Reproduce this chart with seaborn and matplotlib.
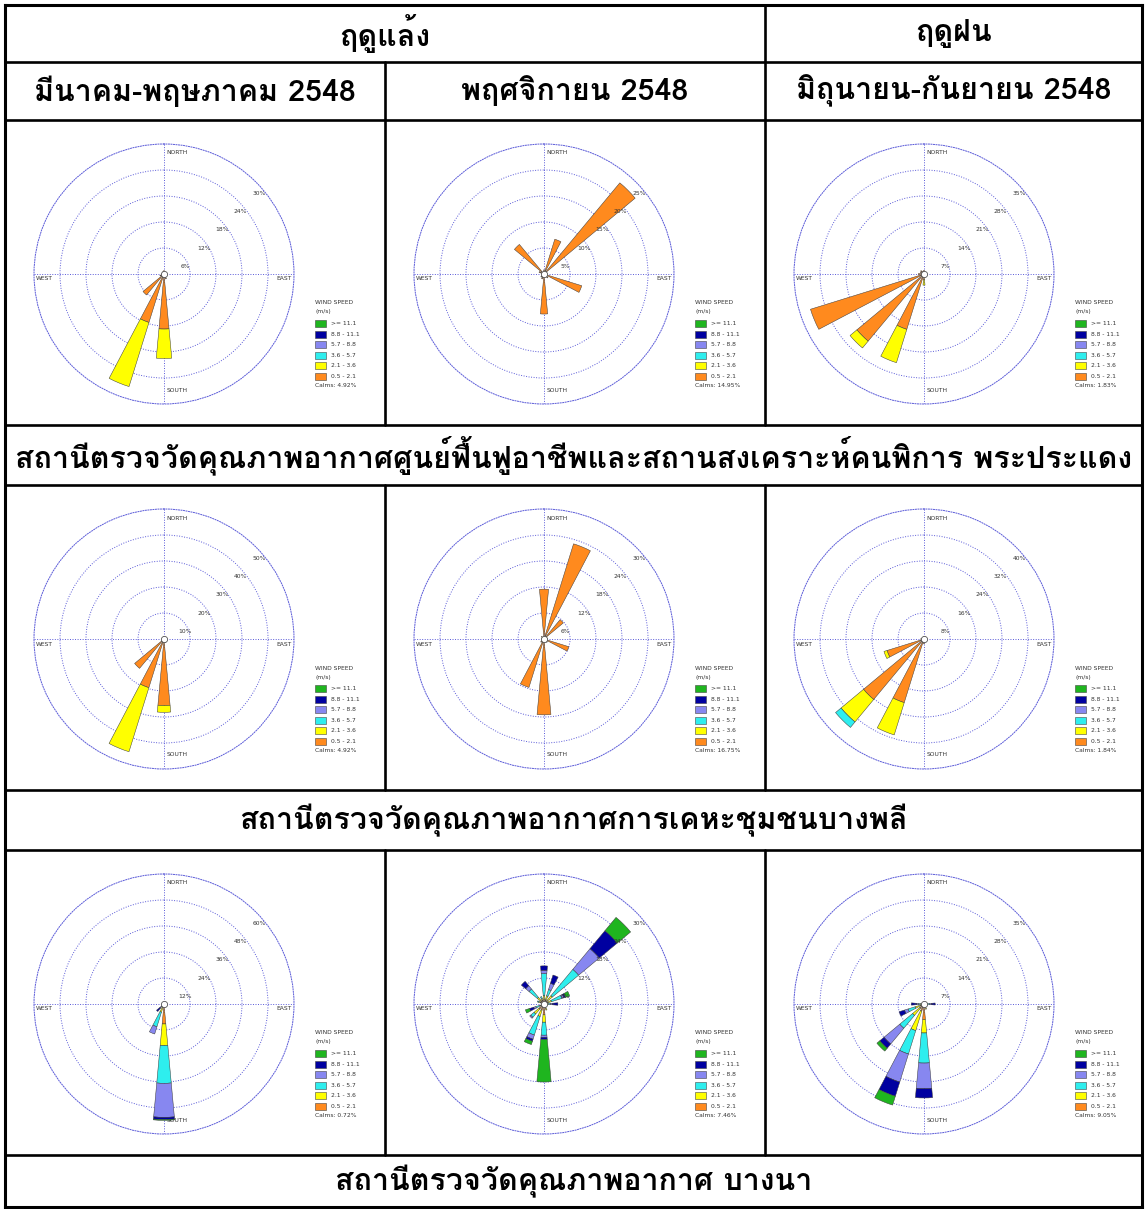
import numpy as np
import pandas as pd
import matplotlib
matplotlib.use("Agg")
import matplotlib.pyplot as plt
import seaborn as sns
from matplotlib import font_manager
from matplotlib.font_manager import FontProperties
from matplotlib.ft2font import FT2Font
from matplotlib.patches import Rectangle
from matplotlib.transforms import offset_copy

# ---------------------------------------------------------------- text
SEASON_DRY = "ฤดูแล้ง"
SEASON_WET = "ฤดูฝน"
PERIODS = ["มีนาคม-พฤษภาคม 2548", "พฤศจิกายน 2548", "มิถุนายน-กันยายน 2548"]
STATIONS = [
    "สถานีตรวจวัดคุณภาพอากาศศูนย์ฟื้นฟูอาชีพและสถานสงเคราะห์คนพิการ พระประแดง",
    "สถานีตรวจวัดคุณภาพอากาศการเคหะชุมชนบางพลี",
    "สถานีตรวจวัดคุณภาพอากาศ บางนา",
]

# ---------------------------------------------------------------- wind data
DIRECTIONS = ["N", "NNE", "NE", "ENE", "E", "ESE", "SE", "SSE",
              "S", "SSW", "SW", "WSW", "W", "WNW", "NW", "NNW"]
# speed classes, from the calm circle outward (m/s)
SPEED_CLASSES = ["0.5 - 2.1", "2.1 - 3.6", "3.6 - 5.7", "5.7 - 8.8", "8.8 - 11.1", ">= 11.1"]
SPEED_COLORS = ["#FF8A1E", "#FFFF00", "#2EEEEE", "#8787F0", "#0000A0", "#1FB51F"]

# percent frequency per direction, split by speed class (same order as SPEED_CLASSES)
PPD_MAR_MAY = {"N": [0.8], "NNE": [0.5], "NE": [0.4], "E": [0.3], "SE": [0.6], "SSE": [1.2],
               "S": [12.7, 6.8], "SSW": [11.7, 15.5], "SW": [6.3], "WSW": [1.0],
               "W": [0.5], "NW": [0.4], "NNW": [0.6]}
PPD_NOV = {"N": [0.8], "NNE": [7.0], "NE": [22.8], "E": [0.6], "ESE": [7.6], "SE": [1.0],
           "S": [7.7], "SSW": [1.0], "SW": [0.8], "W": [0.5], "WNW": [1.0], "NW": [7.4]}
PPD_JUN_SEP = {"N": [1.0], "E": [0.5], "SE": [0.6], "SSE": [0.8], "S": [1.5, 1.5],
               "SSW": [15.6, 9.4], "SW": [23.5, 2.4], "WSW": [32.0], "W": [1.5],
               "WNW": [1.0], "NW": [1.2], "NNW": [0.8]}

BPL_MAR_MAY = {"N": [1.0], "NNE": [0.5], "SSE": [1.5], "S": [25.6, 2.6],
               "SSW": [19.6, 25.8], "SW": [14.7], "WSW": [1.0]}
BPL_NOV = {"N": [11.5], "NNE": [23.0], "NE": [5.8], "E": [0.8], "ESE": [6.0], "SE": [1.0],
           "S": [17.5], "SSW": [11.7], "SW": [1.0], "W": [0.6], "NW": [0.8]}
BPL_JUN_SEP = {"N": [0.8], "NNE": [0.8], "NE": [0.5], "E": [0.6], "ESE": [0.5], "SE": [0.7],
               "S": [1.5], "SSW": [20.5, 10.4], "SW": [24.2, 9.0, 2.2], "WSW": [11.9, 1.0],
               "W": [1.0], "WNW": [0.6]}

BNA_MAR_MAY = {"N": [0.3], "NNE": [0.5], "SSE": [0.5],
               "S": [9.2, 10.0, 17.4, 15.7, 1.0, 0.4],
               "SSW": [1.0, 3.0, 7.0, 3.5],
               "SW": [0.5, 0.5, 0.5, 1.0, 2.0]}
BNA_NOV = {"N": [1.0, 1.0, 5.0, 0.8, 1.0], "NNE": [1.0, 1.0, 1.5, 1.5, 2.0],
           "NE": [1.0, 1.5, 7.9, 6.2, 5.4, 4.0], "ENE": [1.0, 0.8, 2.5, 0.5, 0.4, 1.0],
           "E": [0.5, 0.5, 0.5, 0.5, 1.2], "ESE": [0.5], "SE": [0.5], "SSE": [1.0, 0.5],
           "S": [2.5, 1.7, 3.0, 0.5, 0.5, 9.8], "SSW": [1.5, 1.5, 4.5, 1.0, 0.5, 0.8],
           "SW": [1.5, 1.5, 1.0, 0.3], "WSW": [0.5, 0.5, 1.0, 0.5, 1.0, 1.0],
           "WNW": [0.8, 0.5, 0.3], "NW": [1.0, 1.0, 2.5, 1.0, 1.3], "NNW": [0.8, 0.5, 0.5]}
BNA_JUN_SEP = {"N": [0.5], "NNE": [0.5], "E": [0.5, 0.5, 0.5, 0.5, 1.0], "SSE": [1.0, 0.5],
               "S": [4.2, 3.6, 8.1, 6.9, 2.5], "SSW": [2.0, 5.5, 6.6, 7.9, 4.0, 2.5],
               "SW": [1.5, 2.5, 4.5, 5.5, 1.5, 1.0], "WSW": [1.0, 1.5, 2.0, 1.0, 1.5],
               "W": [0.5, 0.5, 0.5, 0.5, 1.4]}

ROSES = [[PPD_MAR_MAY, PPD_NOV, PPD_JUN_SEP],
         [BPL_MAR_MAY, BPL_NOV, BPL_JUN_SEP],
         [BNA_MAR_MAY, BNA_NOV, BNA_JUN_SEP]]
RING_STEPS = [[6, 5, 7], [10, 6, 8], [12, 6, 7]]
CALMS = [["4.92%", "14.95%", "1.83%"],
         ["4.92%", "16.75%", "1.84%"],
         ["0.72%", "7.46%", "9.05%"]]

# long-form table built from the dictionaries above
records = []
for r, row in enumerate(ROSES):
    for c, rose in enumerate(row):
        for d, vals in rose.items():
            for k, v in enumerate(vals):
                records.append(dict(row=r, col=c, direction=d,
                                    speed=SPEED_CLASSES[k], percent=v))
wind = pd.DataFrame(records)


# ---------------------------------------------------------------- fonts
def find_thai_font():
    paths = [f.fname for f in font_manager.fontManager.ttflist]
    paths += [p for p in font_manager.findSystemFonts() if p not in paths]
    found = []
    for path in paths:
        try:
            cmap = FT2Font(path).get_charmap()
        except Exception:
            continue
        if all(ord(ch) in cmap for ch in "กฤดูแล้งสถานี"):
            low = path.lower()
            found.append(("bold" not in low, "italic" in low or "oblique" in low, len(low), path))
    if not found:
        return None
    found.sort()
    return found[0][3]


sns.set_style("white")
plt.rcParams["font.family"] = ["DejaVu Sans"]
thai_path = find_thai_font()
if thai_path:
    THAI = FontProperties(fname=thai_path)
else:
    THAI = FontProperties(family="DejaVu Sans", weight="bold")

palette = sns.color_palette(SPEED_COLORS)

# ---------------------------------------------------------------- layout
W, H = 1145, 1209
fig = plt.figure(figsize=(W / 100, H / 100), dpi=100)
bg = fig.add_axes([0, 0, 1, 1])
bg.set_xlim(0, W)
bg.set_ylim(H, 0)
bg.axis("off")

X_EDGES = [5, 385, 765, 1142]
TOP, BOTTOM = 5, 1207
H_LINES = [62, 120, 425, 485, 790, 850, 1155]
ROSE_ROWS = [(120, 425), (485, 790), (850, 1155)]

lw_in = 1.9
lw_out = 2.2
for y in [TOP, BOTTOM]:
    bg.plot([X_EDGES[0], X_EDGES[-1]], [y, y], color="black", lw=lw_out, solid_capstyle="projecting")
for x in [X_EDGES[0], X_EDGES[-1]]:
    bg.plot([x, x], [TOP, BOTTOM], color="black", lw=lw_out, solid_capstyle="projecting")
for y in H_LINES:
    bg.plot([X_EDGES[0], X_EDGES[-1]], [y, y], color="black", lw=lw_in)
bg.plot([X_EDGES[2]] * 2, [TOP, ROSE_ROWS[0][1]], color="black", lw=lw_in)
bg.plot([X_EDGES[1]] * 2, [H_LINES[0], ROSE_ROWS[0][1]], color="black", lw=lw_in)
for y0, y1 in ROSE_ROWS[1:]:
    for x in X_EDGES[1:3]:
        bg.plot([x, x], [y0, y1], color="black", lw=lw_in)

# header / station texts, all at one size fitted to the longest line
renderer = fig.canvas.get_renderer()
probe = bg.text(0, 0, STATIONS[0], fontproperties=THAI, fontsize=20)
probe_w = probe.get_window_extent(renderer).width
probe.remove()
thai_size = 20 * 1118 / probe_w


def cell_text(x, y, s):
    bg.text(x, y, s, fontproperties=THAI, fontsize=thai_size, ha="center", va="center",
            color="black", fontweight="bold")


cell_text((X_EDGES[0] + X_EDGES[2]) / 2, 34, SEASON_DRY)
cell_text((X_EDGES[2] + X_EDGES[3]) / 2, 34, SEASON_WET)
for c in range(3):
    cell_text((X_EDGES[c] + X_EDGES[c + 1]) / 2, 91, PERIODS[c])
for s, (y0, y1) in zip(STATIONS, [(425, 485), (790, 850), (1155, 1207)]):
    cell_text((X_EDGES[0] + X_EDGES[-1]) / 2, (y0 + y1) / 2, s)

# ---------------------------------------------------------------- roses
R = 130
BAR_WIDTH = np.radians(10.5)
GRID_BLUE = "#5a5ad8"
theta_of = {d: np.radians(22.5 * i) for i, d in enumerate(DIRECTIONS)}

for r, (y0, _) in enumerate(ROSE_ROWS):
    for c in range(3):
        x0 = X_EDGES[c]
        cx, cy = x0 + 159, y0 + 154
        step = RING_STEPS[r][c]
        ax = fig.add_axes([(cx - R) / W, 1 - (cy + R) / H, 2 * R / W, 2 * R / H],
                          projection="polar")
        ax.set_facecolor("none")
        ax.set_theta_zero_location("N")
        ax.set_theta_direction(-1)
        ax.set_ylim(0, 5 * step)
        ax.set_yticks([step * k for k in range(1, 5)])
        ax.set_xticks(np.radians([0, 90, 180, 270]))
        ax.set_xticklabels([])
        ax.set_yticklabels([])
        ax.grid(True, color=GRID_BLUE, linestyle=(0, (1, 1.6)), linewidth=0.7)
        ax.spines["polar"].set_linestyle((0, (1, 1.6)))
        ax.spines["polar"].set_color(GRID_BLUE)
        ax.spines["polar"].set_linewidth(0.7)

        sub = wind[(wind.row == r) & (wind.col == c)]
        bottoms = {d: 0.0 for d in DIRECTIONS}
        for k, speed in enumerate(SPEED_CLASSES):
            part = sub[sub.speed == speed]
            if part.empty:
                continue
            th = [theta_of[d] for d in part.direction]
            base = [bottoms[d] for d in part.direction]
            ax.bar(th, part.percent.values, width=BAR_WIDTH, bottom=base,
                   color=palette[k], edgecolor="#3a3a3a", linewidth=0.35, zorder=3)
            for d, v in zip(part.direction, part.percent.values):
                bottoms[d] += v
        ax.plot([0], [0], marker="o", ms=4.5, mfc="white", mec="#555555", mew=0.6, zorder=5)

        lab_tf = offset_copy(ax.transData, fig=fig, x=3, y=-11, units="dots")
        for k in range(1, 6):
            ax.text(np.radians(45), step * k, f"{step * k}%", transform=lab_tf,
                    fontsize=4.3, ha="center", va="center", color="#333333", zorder=6)

        small = dict(fontsize=4.3, color="#333333", va="center")
        bg.text(cx + 2, cy - R + 9, "NORTH", ha="left", **small)
        bg.text(cx + 3, cy + R - 14, "SOUTH", ha="left", **small)
        bg.text(cx - R + 2, cy + 5, "WEST", ha="left", **small)
        bg.text(cx + R - 2, cy + 5, "EAST", ha="right", **small)

        # legend
        lx, ly = x0 + 310, y0 + 183
        bg.text(lx, ly, "WIND SPEED", ha="left", **small)
        bg.text(lx, ly + 9, "(m/s)", ha="left", **small)
        for i, k in enumerate(range(5, -1, -1)):
            top = ly + 17 + 10.6 * i
            bg.add_patch(Rectangle((lx, top), 11, 7, facecolor=palette[k],
                                   edgecolor="#444444", linewidth=0.4))
            bg.text(lx + 16, top + 3.5, SPEED_CLASSES[k], ha="left", **small)
        bg.text(lx, ly + 17 + 10.6 * 6 + 2, f"Calms: {CALMS[r][c]}", ha="left", **small)

fig.savefig("out.png", dpi=100, facecolor="white")
